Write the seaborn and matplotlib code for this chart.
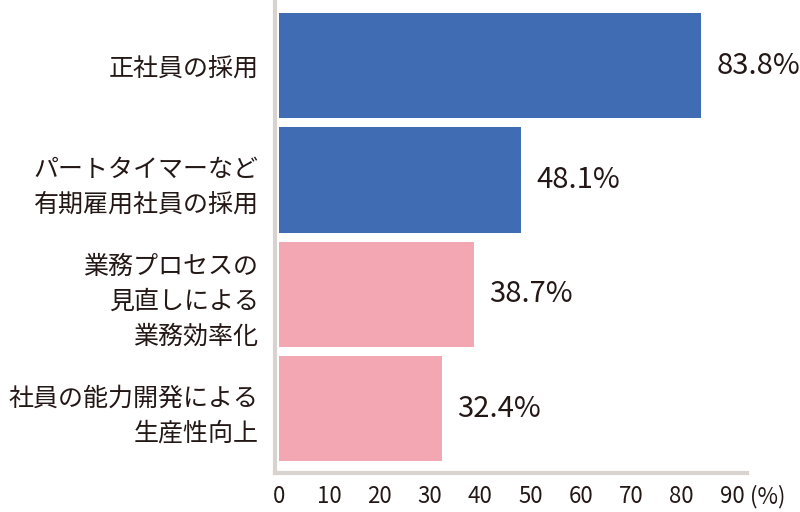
import matplotlib
matplotlib.use("Agg")
import matplotlib.pyplot as plt
import seaborn as sns
import pandas as pd

categories = ["正社員の採用",
              "パートタイマーなど\n有期雇用社員の採用",
              "業務プロセスの\n見直しによる\n業務効率化",
              "社員の能力開発による\n生産性向上"]
values = [83.8, 48.1, 38.7, 32.4]
bar_colors = ["#3f6cb2", "#3f6cb2", "#f2a7b3", "#f2a7b3"]
xticks = [0, 10, 20, 30, 40, 50, 60, 70, 80, 90]
unit_label = "(%)"

sns.set_theme(style="white")
plt.rcParams['font.family'] = ['Noto Sans CJK JP', 'DejaVu Sans']
text_color = "#231815"
spine_color = "#d9d3d0"

df = pd.DataFrame({"category": categories, "value": values})

fig = plt.figure(figsize=(8, 5.12), dpi=100)
ax = fig.add_axes([0.344, 0.077, 0.590, 0.923])

sns.barplot(data=df, y="category", x="value", hue="category",
            palette=dict(zip(categories, bar_colors)), legend=False,
            orient="h", width=0.92, saturation=1, ax=ax, linewidth=0)

ax.set_xlim(-0.7, 93.0)
ax.set_ylim(3.56, -0.574)
ax.set_xticks(xticks)
ax.set_xticklabels([str(t) for t in xticks], fontsize=16, color=text_color)
ax.tick_params(axis="x", length=0, pad=9)
ax.tick_params(axis="y", length=0, pad=12)
for lbl in ax.get_yticklabels():
    lbl.set_fontsize(18)
    lbl.set_color(text_color)
    lbl.set_linespacing(1.45)
ax.set_xlabel("")
ax.set_ylabel("")

for s in ["top", "right"]:
    ax.spines[s].set_visible(False)
for s in ["left", "bottom"]:
    ax.spines[s].set_color(spine_color)
    ax.spines[s].set_linewidth(3)

for cont in ax.containers:
    ax.bar_label(cont, fmt="{:.1f}%", padding=11, fontsize=21, color=text_color)

xt = ax.get_xaxis_transform()
ax.annotate(unit_label, xy=(90, 0), xycoords=xt, xytext=(13, -9),
            textcoords="offset points", ha="left", va="top",
            fontsize=16, color=text_color, annotation_clip=False)

fig.savefig("out.png", dpi=100, facecolor="white")
